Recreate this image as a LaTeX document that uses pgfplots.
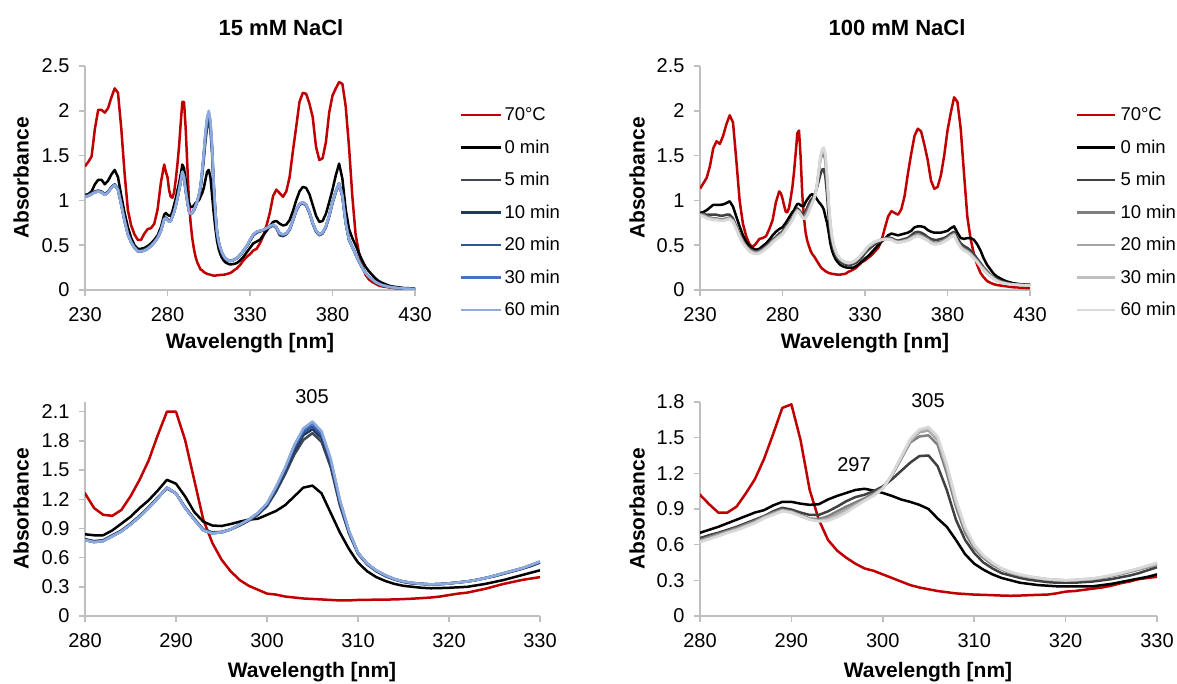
\documentclass[border=0pt]{standalone}
\usepackage{fontspec}
\setmainfont{Liberation Sans}
\usepackage{pgfplots}
\usepackage{pgfplotstable}
\pgfplotsset{compat=1.18}
\definecolor{red70}{HTML}{C00000}
\definecolor{axgray}{HTML}{BFBFBF}
\definecolor{bA}{HTML}{3F4755}
\definecolor{bB}{HTML}{203864}
\definecolor{bC}{HTML}{2F5597}
\definecolor{bD}{HTML}{4472C4}
\definecolor{bE}{HTML}{8FAADC}
\definecolor{gA}{HTML}{404040}
\definecolor{gB}{HTML}{7F7F7F}
\definecolor{gC}{HTML}{A6A6A6}
\definecolor{gD}{HTML}{BFBFBF}
\definecolor{gE}{HTML}{D9D9D9}

% 15 mM NaCl: x, 70C, 0, 5, 10, 20, 30, 60 min
\pgfplotstableread{
x red t0 t5 t10 t20 t30 t60
230 1.38 1.06 1.05 1.045 1.04 1.04 1.04
232 1.43 1.07 1.06 1.055 1.05 1.05 1.05
234 1.49 1.10 1.08 1.075 1.07 1.07 1.07
236 1.80 1.18 1.10 1.095 1.09 1.09 1.09
238 2.01 1.23 1.11 1.105 1.10 1.10 1.10
240 2.01 1.23 1.10 1.095 1.09 1.09 1.09
242 1.98 1.18 1.07 1.065 1.06 1.06 1.06
244 2.03 1.22 1.10 1.095 1.09 1.09 1.09
246 2.15 1.29 1.15 1.145 1.14 1.14 1.14
248 2.25 1.34 1.18 1.175 1.17 1.17 1.17
250 2.20 1.26 1.13 1.125 1.12 1.12 1.12
252 1.80 1.05 0.96 0.955 0.95 0.95 0.95
254 1.30 0.86 0.78 0.775 0.77 0.77 0.77
256 0.89 0.70 0.63 0.625 0.62 0.62 0.62
258 0.72 0.58 0.54 0.535 0.53 0.53 0.53
260 0.62 0.50 0.48 0.475 0.47 0.47 0.47
262 0.56 0.46 0.44 0.435 0.43 0.43 0.43
264 0.56 0.46 0.44 0.435 0.43 0.43 0.43
266 0.63 0.47 0.45 0.445 0.44 0.44 0.44
268 0.68 0.49 0.47 0.465 0.46 0.46 0.46
270 0.69 0.52 0.50 0.495 0.49 0.49 0.49
272 0.74 0.56 0.54 0.535 0.53 0.53 0.53
274 0.90 0.61 0.59 0.585 0.58 0.58 0.58
276 1.20 0.70 0.67 0.665 0.66 0.66 0.66
278 1.40 0.84 0.80 0.795 0.79 0.79 0.79
279 1.32 0.86 0.81 0.805 0.80 0.80 0.80
280 1.26 0.84 0.79 0.785 0.78 0.78 0.78
281 1.11 0.83 0.77 0.765 0.76 0.76 0.76
282 1.04 0.83 0.78 0.775 0.77 0.77 0.77
283 1.03 0.88 0.83 0.825 0.82 0.82 0.82
284 1.09 0.95 0.88 0.875 0.87 0.87 0.87
285 1.23 1.02 0.95 0.945 0.94 0.94 0.94
286 1.40 1.11 1.03 1.025 1.02 1.02 1.02
287 1.60 1.19 1.12 1.115 1.11 1.11 1.11
288 1.86 1.29 1.22 1.215 1.21 1.21 1.21
289 2.10 1.40 1.31 1.32 1.32 1.32 1.32
290 2.10 1.36 1.26 1.26 1.26 1.26 1.26
291 1.81 1.23 1.12 1.115 1.11 1.11 1.11
292 1.40 1.07 1.00 0.995 0.99 0.99 0.99
293 0.99 0.97 0.89 0.885 0.88 0.88 0.88
294 0.75 0.93 0.86 0.855 0.85 0.85 0.85
295 0.58 0.925 0.865 0.86 0.86 0.86 0.86
296 0.46 0.945 0.89 0.89 0.89 0.89 0.89
297 0.37 0.97 0.93 0.935 0.94 0.94 0.94
298 0.31 0.99 0.98 0.985 0.99 0.99 0.99
299 0.27 1.00 1.04 1.05 1.055 1.06 1.06
300 0.23 1.04 1.13 1.145 1.15 1.155 1.16
301 0.22 1.08 1.28 1.30 1.315 1.325 1.33
302 0.20 1.14 1.46 1.49 1.51 1.52 1.53
303 0.19 1.23 1.66 1.70 1.73 1.75 1.76
304 0.18 1.32 1.81 1.86 1.89 1.91 1.93
305 0.175 1.34 1.88 1.92 1.95 1.98 2.00
306 0.17 1.26 1.79 1.83 1.86 1.88 1.90
307 0.165 1.06 1.53 1.57 1.59 1.60 1.62
308 0.16 0.86 1.14 1.16 1.18 1.19 1.20
309 0.16 0.69 0.85 0.86 0.87 0.875 0.88
310 0.165 0.55 0.64 0.645 0.65 0.65 0.65
311 0.166 0.46 0.53 0.535 0.54 0.54 0.54
312 0.168 0.40 0.46 0.465 0.465 0.47 0.47
313 0.169 0.36 0.41 0.415 0.415 0.42 0.42
314 0.17 0.33 0.375 0.375 0.38 0.38 0.38
315 0.174 0.31 0.35 0.35 0.355 0.355 0.355
316 0.178 0.30 0.335 0.335 0.34 0.34 0.34
317 0.184 0.29 0.33 0.33 0.33 0.33 0.33
318 0.19 0.285 0.325 0.325 0.325 0.325 0.325
319 0.20 0.287 0.328 0.328 0.328 0.328 0.328
320 0.215 0.29 0.335 0.335 0.335 0.335 0.335
321 0.23 0.295 0.345 0.345 0.345 0.345 0.345
322 0.24 0.30 0.355 0.355 0.355 0.355 0.355
323 0.26 0.315 0.37 0.37 0.37 0.37 0.37
324 0.28 0.33 0.39 0.39 0.39 0.39 0.39
325 0.305 0.35 0.41 0.41 0.415 0.415 0.415
326 0.33 0.37 0.435 0.435 0.44 0.44 0.44
327 0.35 0.395 0.46 0.46 0.465 0.465 0.465
328 0.37 0.42 0.485 0.485 0.49 0.49 0.49
329 0.385 0.445 0.515 0.515 0.52 0.525 0.525
330 0.40 0.47 0.55 0.55 0.555 0.56 0.56
332 0.44 0.52 0.61 0.61 0.615 0.62 0.62
334 0.46 0.54 0.64 0.64 0.645 0.65 0.65
336 0.52 0.56 0.655 0.655 0.66 0.66 0.66
338 0.60 0.61 0.665 0.665 0.67 0.67 0.67
340 0.72 0.66 0.685 0.685 0.69 0.69 0.69
342 0.86 0.71 0.70 0.705 0.71 0.71 0.71
344 1.05 0.76 0.72 0.725 0.73 0.73 0.73
346 1.12 0.77 0.69 0.695 0.70 0.70 0.70
348 1.08 0.74 0.61 0.62 0.63 0.63 0.63
350 1.04 0.72 0.60 0.61 0.62 0.62 0.62
352 1.10 0.73 0.62 0.625 0.63 0.63 0.63
354 1.26 0.78 0.67 0.675 0.68 0.68 0.68
356 1.55 0.88 0.77 0.775 0.78 0.78 0.78
358 1.82 1.00 0.88 0.885 0.89 0.89 0.89
360 2.10 1.10 0.95 0.955 0.96 0.96 0.96
362 2.20 1.15 0.97 0.975 0.98 0.98 0.98
364 2.19 1.14 0.94 0.945 0.95 0.95 0.95
366 2.08 1.07 0.86 0.865 0.87 0.87 0.87
368 1.93 0.95 0.74 0.745 0.75 0.75 0.75
370 1.60 0.83 0.65 0.655 0.66 0.66 0.66
372 1.45 0.76 0.61 0.615 0.62 0.62 0.62
374 1.47 0.77 0.63 0.635 0.64 0.64 0.64
376 1.65 0.85 0.70 0.705 0.71 0.71 0.71
378 1.98 0.98 0.82 0.825 0.83 0.83 0.83
380 2.17 1.12 0.97 0.975 0.98 0.98 0.98
382 2.25 1.28 1.09 1.095 1.10 1.10 1.10
384 2.32 1.41 1.18 1.185 1.19 1.19 1.19
386 2.30 1.24 1.04 1.045 1.05 1.05 1.05
388 2.05 0.90 0.75 0.75 0.75 0.75 0.75
390 1.60 0.68 0.56 0.56 0.56 0.56 0.56
392 1.05 0.58 0.48 0.48 0.48 0.48 0.48
394 0.62 0.50 0.40 0.40 0.40 0.40 0.40
396 0.42 0.41 0.32 0.32 0.32 0.32 0.32
398 0.28 0.33 0.25 0.25 0.25 0.25 0.25
400 0.17 0.26 0.19 0.19 0.19 0.19 0.19
402 0.12 0.21 0.15 0.15 0.15 0.15 0.15
404 0.09 0.17 0.12 0.12 0.12 0.12 0.12
406 0.07 0.13 0.09 0.09 0.09 0.09 0.09
408 0.05 0.10 0.07 0.07 0.07 0.07 0.07
410 0.04 0.08 0.055 0.055 0.055 0.055 0.055
412 0.035 0.065 0.045 0.045 0.045 0.045 0.045
414 0.03 0.05 0.035 0.035 0.035 0.035 0.035
416 0.025 0.04 0.03 0.03 0.03 0.03 0.03
418 0.02 0.035 0.025 0.025 0.025 0.025 0.025
420 0.02 0.03 0.02 0.02 0.02 0.02 0.02
422 0.015 0.025 0.02 0.02 0.02 0.02 0.02
424 0.015 0.02 0.015 0.015 0.015 0.015 0.015
426 0.012 0.02 0.015 0.015 0.015 0.015 0.015
428 0.01 0.015 0.01 0.01 0.01 0.01 0.01
430 0.01 0.015 0.01 0.01 0.01 0.01 0.01
}\leftdata

% 100 mM NaCl: x, 70C, 0, 5, 10, 20, 30, 60 min
\pgfplotstableread{
x red t0 t5 t10 t20 t30 t60
230 1.13 0.86 0.85 0.845 0.84 0.835 0.83
232 1.19 0.87 0.85 0.84 0.83 0.825 0.82
234 1.25 0.89 0.84 0.82 0.81 0.805 0.80
236 1.38 0.92 0.84 0.81 0.80 0.795 0.79
238 1.58 0.95 0.84 0.80 0.79 0.785 0.78
240 1.66 0.95 0.84 0.80 0.79 0.785 0.78
242 1.63 0.95 0.83 0.79 0.78 0.775 0.77
244 1.72 0.955 0.83 0.79 0.78 0.775 0.77
246 1.85 0.97 0.84 0.80 0.79 0.785 0.78
248 1.95 0.99 0.84 0.81 0.80 0.795 0.79
250 1.87 0.93 0.80 0.78 0.77 0.765 0.76
252 1.45 0.82 0.71 0.70 0.69 0.685 0.68
254 1.00 0.71 0.62 0.61 0.60 0.595 0.59
256 0.74 0.61 0.55 0.54 0.53 0.525 0.52
258 0.60 0.54 0.49 0.485 0.48 0.475 0.47
260 0.51 0.49 0.46 0.45 0.44 0.435 0.43
262 0.48 0.46 0.44 0.43 0.42 0.415 0.41
264 0.52 0.45 0.43 0.42 0.41 0.405 0.40
266 0.57 0.46 0.44 0.43 0.42 0.415 0.41
268 0.58 0.49 0.46 0.45 0.44 0.435 0.43
270 0.60 0.52 0.49 0.48 0.47 0.465 0.46
272 0.68 0.56 0.52 0.51 0.50 0.495 0.49
274 0.78 0.61 0.56 0.55 0.54 0.535 0.53
276 0.98 0.65 0.59 0.58 0.57 0.565 0.56
278 1.10 0.68 0.63 0.61 0.60 0.595 0.59
279 1.08 0.69 0.64 0.625 0.615 0.61 0.605
280 1.02 0.70 0.655 0.64 0.63 0.625 0.62
281 0.94 0.725 0.68 0.665 0.655 0.65 0.645
282 0.87 0.75 0.70 0.69 0.68 0.675 0.67
283 0.87 0.78 0.725 0.715 0.705 0.70 0.70
284 0.92 0.81 0.75 0.74 0.73 0.725 0.72
285 1.03 0.84 0.78 0.77 0.76 0.755 0.75
286 1.15 0.87 0.81 0.80 0.79 0.785 0.78
287 1.32 0.89 0.84 0.835 0.83 0.825 0.82
288 1.53 0.93 0.88 0.87 0.86 0.855 0.85
289 1.75 0.96 0.91 0.895 0.89 0.885 0.88
290 1.78 0.96 0.895 0.88 0.875 0.87 0.87
291 1.48 0.945 0.87 0.85 0.845 0.84 0.84
292 1.06 0.935 0.85 0.82 0.815 0.81 0.81
293 0.81 0.94 0.85 0.815 0.80 0.80 0.795
294 0.64 0.98 0.88 0.84 0.82 0.81 0.80
295 0.55 1.01 0.92 0.88 0.855 0.84 0.83
296 0.49 1.035 0.965 0.92 0.895 0.88 0.87
297 0.44 1.06 1.00 0.955 0.935 0.925 0.92
298 0.40 1.07 1.02 0.99 0.975 0.97 0.97
299 0.38 1.055 1.05 1.03 1.02 1.015 1.01
300 0.35 1.035 1.09 1.08 1.075 1.07 1.07
301 0.32 1.01 1.15 1.18 1.185 1.19 1.19
302 0.29 0.98 1.22 1.32 1.33 1.335 1.34
303 0.26 0.96 1.29 1.46 1.47 1.48 1.49
304 0.24 0.935 1.345 1.51 1.545 1.56 1.57
305 0.225 0.90 1.35 1.52 1.56 1.58 1.59
306 0.21 0.82 1.26 1.44 1.48 1.50 1.51
307 0.20 0.75 1.06 1.20 1.24 1.26 1.28
308 0.19 0.64 0.81 0.92 0.95 0.97 0.98
309 0.185 0.52 0.64 0.70 0.73 0.74 0.75
310 0.18 0.44 0.53 0.57 0.585 0.595 0.60
311 0.178 0.39 0.45 0.49 0.50 0.505 0.51
312 0.175 0.35 0.40 0.43 0.44 0.445 0.45
313 0.172 0.32 0.36 0.39 0.395 0.40 0.40
314 0.17 0.30 0.34 0.36 0.365 0.37 0.37
315 0.172 0.28 0.32 0.34 0.345 0.345 0.35
316 0.175 0.27 0.305 0.325 0.33 0.33 0.335
317 0.178 0.26 0.295 0.315 0.32 0.32 0.32
318 0.18 0.255 0.285 0.305 0.31 0.31 0.31
319 0.19 0.25 0.28 0.30 0.305 0.305 0.305
320 0.205 0.25 0.28 0.30 0.30 0.30 0.30
321 0.21 0.25 0.28 0.30 0.30 0.305 0.305
322 0.22 0.25 0.285 0.305 0.305 0.31 0.31
323 0.23 0.25 0.29 0.31 0.315 0.315 0.315
324 0.24 0.26 0.30 0.32 0.325 0.325 0.33
325 0.255 0.27 0.31 0.335 0.34 0.34 0.345
326 0.275 0.285 0.325 0.35 0.355 0.36 0.36
327 0.29 0.30 0.34 0.37 0.375 0.38 0.38
328 0.31 0.315 0.36 0.39 0.395 0.40 0.40
329 0.32 0.33 0.385 0.41 0.415 0.42 0.425
330 0.33 0.35 0.41 0.43 0.435 0.44 0.45
332 0.36 0.38 0.45 0.48 0.485 0.49 0.49
334 0.39 0.42 0.48 0.50 0.51 0.515 0.52
336 0.43 0.46 0.51 0.53 0.535 0.54 0.54
338 0.47 0.50 0.53 0.545 0.55 0.55 0.55
340 0.55 0.54 0.55 0.565 0.565 0.56 0.56
342 0.69 0.57 0.57 0.575 0.57 0.565 0.565
344 0.82 0.61 0.585 0.575 0.57 0.565 0.565
346 0.88 0.63 0.58 0.57 0.565 0.56 0.56
348 0.86 0.62 0.56 0.55 0.545 0.54 0.54
350 0.84 0.61 0.55 0.54 0.535 0.53 0.53
352 0.90 0.62 0.56 0.545 0.54 0.535 0.535
354 1.05 0.63 0.57 0.555 0.55 0.545 0.54
356 1.30 0.64 0.58 0.565 0.56 0.555 0.55
358 1.52 0.66 0.61 0.59 0.58 0.575 0.57
360 1.72 0.70 0.64 0.61 0.60 0.595 0.59
362 1.80 0.71 0.65 0.62 0.61 0.605 0.60
364 1.77 0.71 0.64 0.61 0.60 0.595 0.59
366 1.62 0.70 0.62 0.59 0.58 0.575 0.57
368 1.45 0.67 0.59 0.57 0.56 0.555 0.55
370 1.22 0.65 0.57 0.54 0.53 0.525 0.52
372 1.13 0.64 0.56 0.53 0.52 0.515 0.51
374 1.15 0.64 0.56 0.53 0.52 0.515 0.51
376 1.28 0.64 0.57 0.54 0.53 0.525 0.52
378 1.50 0.65 0.58 0.56 0.55 0.545 0.54
380 1.78 0.66 0.60 0.58 0.57 0.565 0.56
382 1.98 0.69 0.63 0.61 0.60 0.595 0.59
384 2.15 0.71 0.65 0.63 0.62 0.615 0.61
386 2.10 0.64 0.58 0.55 0.54 0.535 0.53
388 1.80 0.58 0.52 0.49 0.48 0.475 0.47
390 1.30 0.57 0.49 0.46 0.45 0.445 0.44
392 0.82 0.58 0.47 0.44 0.43 0.425 0.42
394 0.57 0.58 0.44 0.41 0.40 0.395 0.39
396 0.40 0.56 0.40 0.37 0.36 0.355 0.35
398 0.28 0.51 0.35 0.33 0.32 0.315 0.31
400 0.19 0.44 0.30 0.28 0.27 0.265 0.26
402 0.14 0.35 0.25 0.24 0.23 0.225 0.22
404 0.10 0.28 0.21 0.20 0.19 0.185 0.18
406 0.08 0.23 0.17 0.165 0.16 0.155 0.15
408 0.065 0.18 0.14 0.135 0.13 0.125 0.12
410 0.055 0.15 0.12 0.11 0.105 0.10 0.10
412 0.05 0.13 0.10 0.095 0.09 0.085 0.085
414 0.045 0.11 0.09 0.085 0.08 0.075 0.075
416 0.04 0.095 0.08 0.075 0.07 0.068 0.068
418 0.035 0.085 0.07 0.068 0.065 0.063 0.063
420 0.03 0.075 0.065 0.063 0.062 0.06 0.06
422 0.03 0.07 0.06 0.06 0.058 0.057 0.057
424 0.025 0.065 0.058 0.057 0.056 0.055 0.055
426 0.025 0.062 0.055 0.055 0.054 0.053 0.053
428 0.02 0.06 0.053 0.053 0.052 0.052 0.052
430 0.02 0.06 0.05 0.05 0.05 0.05 0.05
}\rightdata

\pgfplotsset{
  excel/.style={
    scale only axis,
    axis x line*=bottom, axis y line*=left,
    axis line style={draw=axgray, line width=1.5pt},
    every tick/.style={draw=axgray, line width=1.5pt},
    major tick length=6pt, tick align=outside,
    /pgf/number format/assume math mode=true,
    tick label style={font=\fontsize{20}{20}\selectfont, text=black},
    yticklabel style={/pgf/number format/fixed, /pgf/number format/precision=1, xshift=-6pt},
    xticklabel style={/pgf/number format/set thousands separator={}, yshift=-8pt},
    every axis plot/.append style={line width=2.5pt, line join=round},
  },
  leg/.style={
    legend cell align=left,
    legend image code/.code={\draw[##1, line width=2.5pt] (0pt,0pt) -- (40pt,0pt);},
    legend style={draw=none, fill=none, inner sep=0pt, outer sep=0pt,
      row sep=0pt, column sep=0pt,
      font=\fontsize{18.5}{18.5}\selectfont,
      nodes={inner ysep=0pt, inner xsep=2pt, minimum height=32.5pt}},
  },
}

\begin{document}
\begin{tikzpicture}[x=1pt,y=1pt]
\path[use as bounding box] (0,0) rectangle (1177,684);

% ---------- top left ----------
\begin{axis}[excel, leg, at={(85pt,394pt)}, anchor=south west,
  width=330pt, height=224pt,
  xmin=230, xmax=430, xtick={230,280,330,380,430},
  ymin=0, ymax=2.5, ytick={0,0.5,1,1.5,2,2.5},
  legend style={at={(axis description cs:1.1364,0.8538)}, anchor=north west}]
\addplot[red70] table[x=x,y=red] {\leftdata};
\addplot[black] table[x=x,y=t0] {\leftdata};
\addplot[bA] table[x=x,y=t5] {\leftdata};
\addplot[bB] table[x=x,y=t10] {\leftdata};
\addplot[bC] table[x=x,y=t20] {\leftdata};
\addplot[bD] table[x=x,y=t30] {\leftdata};
\addplot[bE] table[x=x,y=t60] {\leftdata};
\legend{70°C,0 min,5 min,10 min,20 min,30 min,60 min}
\end{axis}

% ---------- top right ----------
\begin{axis}[excel, leg, at={(700pt,394pt)}, anchor=south west,
  width=330pt, height=224pt,
  xmin=230, xmax=430, xtick={230,280,330,380,430},
  ymin=0, ymax=2.5, ytick={0,0.5,1,1.5,2,2.5},
  legend image code/.code={\draw[#1, line width=2.5pt] (0pt,0pt) -- (38pt,0pt);},
  legend style={at={(axis description cs:1.1394,0.8538)}, anchor=north west,
    nodes={inner xsep=4pt}}]
\addplot[red70] table[x=x,y=red] {\rightdata};
\addplot[black] table[x=x,y=t0] {\rightdata};
\addplot[gA] table[x=x,y=t5] {\rightdata};
\addplot[gB] table[x=x,y=t10] {\rightdata};
\addplot[gC] table[x=x,y=t20] {\rightdata};
\addplot[gD] table[x=x,y=t30] {\rightdata};
\addplot[gE] table[x=x,y=t60] {\rightdata};
\legend{70°C,0 min,5 min,10 min,20 min,30 min,60 min}
\end{axis}

% ---------- bottom left ----------
\begin{axis}[excel, at={(85pt,68pt)}, anchor=south west,
  width=455pt, height=214pt,
  xmin=280, xmax=330, xtick={280,290,300,310,320,330},
  ymin=0, ymax=2.2, ytick={0,0.3,0.6,0.9,1.2,1.5,1.8,2.1},
  restrict x to domain=279:331]
\addplot[red70] table[x=x,y=red] {\leftdata};
\addplot[black] table[x=x,y=t0] {\leftdata};
\addplot[bA] table[x=x,y=t5] {\leftdata};
\addplot[bB] table[x=x,y=t10] {\leftdata};
\addplot[bC] table[x=x,y=t20] {\leftdata};
\addplot[bD] table[x=x,y=t30] {\leftdata};
\addplot[bE] table[x=x,y=t60] {\leftdata};
\end{axis}

% ---------- bottom right ----------
\begin{axis}[excel, at={(700pt,68pt)}, anchor=south west,
  width=457pt, height=214pt,
  xmin=280, xmax=330, xtick={280,290,300,310,320,330},
  ymin=0, ymax=1.8, ytick={0,0.3,0.6,0.9,1.2,1.5,1.8},
  restrict x to domain=279:331]
\addplot[red70] table[x=x,y=red] {\rightdata};
\addplot[black] table[x=x,y=t0] {\rightdata};
\addplot[gA] table[x=x,y=t5] {\rightdata};
\addplot[gB] table[x=x,y=t10] {\rightdata};
\addplot[gC] table[x=x,y=t20] {\rightdata};
\addplot[gD] table[x=x,y=t30] {\rightdata};
\addplot[gE] table[x=x,y=t60] {\rightdata};
\end{axis}

% ---------- titles and labels ----------
\node[font=\fontsize{22}{22}\selectfont\bfseries] at (281,656) {15 mM NaCl};
\node[font=\fontsize{22}{22}\selectfont\bfseries] at (897,656) {100 mM NaCl};

\node[rotate=90, font=\fontsize{21}{21}\selectfont\bfseries] at (21,506) {Absorbance};
\node[rotate=90, font=\fontsize{21}{21}\selectfont\bfseries] at (637,506) {Absorbance};
\node[rotate=90, font=\fontsize{21}{21}\selectfont\bfseries] at (21,175) {Absorbance};
\node[rotate=90, font=\fontsize{21}{21}\selectfont\bfseries] at (637,175) {Absorbance};

\node[font=\fontsize{21}{21}\selectfont\bfseries] at (250,341) {Wavelength [nm]};
\node[font=\fontsize{21}{21}\selectfont\bfseries] at (865,341) {Wavelength [nm]};
\node[font=\fontsize{21}{21}\selectfont\bfseries] at (312,12) {Wavelength [nm]};
\node[font=\fontsize{21}{21}\selectfont\bfseries] at (928,12) {Wavelength [nm]};

\node[font=\fontsize{20}{20}\selectfont] at (312,287) {305};
\node[font=\fontsize{20}{20}\selectfont] at (928,283) {305};
\node[font=\fontsize{20}{20}\selectfont] at (854,219) {297};
\end{tikzpicture}
\end{document}
